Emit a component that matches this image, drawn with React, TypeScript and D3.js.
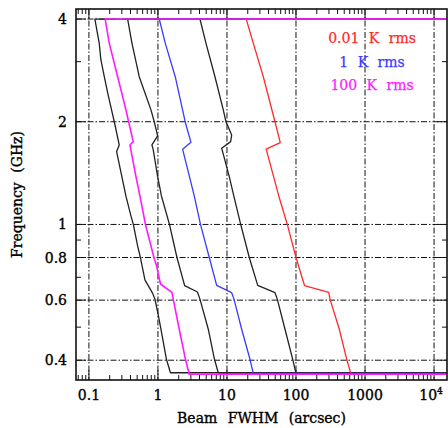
import React from 'react';
import * as d3 from 'd3';

// ---- axes ----
const xDomain: [number, number] = [0.065, 15400];
const yDomain: [number, number] = [0.35, 4.28];
const xGridValues = [0.1, 1, 10, 100, 1000, 10000];
const xTickLabels = ['0.1', '1', '10', '100', '1000', '10|4'];
const yGridValues = [4, 2, 1, 0.8, 0.6, 0.4];
const yTickLabels = ['4', '2', '1', '0.8', '0.6', '0.4'];
const yMinorTicks = [3, 0.9, 0.7, 0.5];

// ---- series (beam FWHM arcsec, frequency GHz) ----
const curveA_beam = [0.122, 0.141, 0.149, 0.167, 0.187, 0.233, 0.275, 0.252, 0.344, 0.406, 0.44, 0.508, 0.557, 0.648, 0.838, 0.905, 1.01, 1.105, 1.328, 1.517];
const curveA_freq = [4.0, 3.4, 3.04, 2.71, 2.43, 2.0, 1.71, 1.635, 1.21, 1.06, 1.0, 0.865, 0.8, 0.688, 0.628, 0.604, 0.543, 0.493, 0.4025, 0.3675];

const curveM_beam = [0.172, 0.197, 0.261, 0.344, 0.376, 0.4385, 0.393, 0.48, 0.548, 0.659, 0.875, 0.957, 1.087, 1.596, 1.666, 2.035, 2.504, 2.842];
const curveM_freq = [4.0, 3.4, 2.71, 2.167, 2.0, 1.749, 1.71, 1.381, 1.212, 1.0, 0.8, 0.756, 0.669, 0.632, 0.604, 0.493, 0.4025, 0.3637];

const curveB_beam = [0.364, 0.42, 0.536, 0.792, 0.884, 0.99, 0.818, 0.855, 0.99, 1.124, 1.468, 1.886, 2.438, 3.736, 4.06, 5.36, 6.59, 7.48];
const curveB_freq = [4.0, 3.4, 2.71, 2.167, 2.0, 1.818, 1.71, 1.654, 1.381, 1.212, 1.0, 0.8, 0.662, 0.634, 0.604, 0.493, 0.4025, 0.3675];

const curveBlue_beam = [1.044, 1.276, 1.781, 2.479, 3.008, 2.28, 3.358, 4.13, 5.54, 7.09, 11.7, 12.63, 16.33, 21.54, 24.05];
const curveBlue_freq = [4.0, 3.4, 2.71, 2.0, 1.74, 1.66, 1.212, 1.0, 0.8, 0.663, 0.631, 0.604, 0.493, 0.4025, 0.366];

const curveC_beam = [4.06, 4.96, 6.7, 8.84, 9.67, 11.7, 11.31, 8.38, 10.8, 12.55, 15.8, 21.05, 27.9, 49.6, 53.6, 69.3, 89.6, 100];
const curveC_freq = [4.0, 3.4, 2.71, 2.167, 2.0, 1.83, 1.749, 1.673, 1.381, 1.212, 1.0, 0.8, 0.663, 0.631, 0.604, 0.493, 0.4025, 0.366];

const curveR_beam = [18.98, 24.05, 33.6, 49.6, 59.2, 37.0, 56.3, 74.8, 100, 132.8, 297.8, 311, 424, 543, 627];
const curveR_freq = [4.0, 3.4, 2.71, 2.0, 1.738, 1.662, 1.212, 1.0, 0.8, 0.662, 0.632, 0.604, 0.493, 0.4025, 0.364];

const legendLabels = ['0.01 K rms', '1 K rms', '100 K rms'];
const legendColors = ['#ff2a2a', '#3a3aff', '#ff1aff'];

const series = [
  { beam: curveA_beam, freq: curveA_freq, color: '#222222' },
  { beam: curveB_beam, freq: curveB_freq, color: '#222222' },
  { beam: curveC_beam, freq: curveC_freq, color: '#222222' },
  { beam: curveR_beam, freq: curveR_freq, color: '#ff2a2a' },
  { beam: curveBlue_beam, freq: curveBlue_freq, color: '#3a3aff' },
  { beam: curveM_beam, freq: curveM_freq, color: '#ff1aff' },
];

const W = 448;
const H = 428;
const L = 76, R = 447, T = 9, B = 380;
const FONT = '"DejaVu Serif", serif';

export default function App() {
  const x = d3.scaleLog().domain(xDomain).range([L, R]);
  const y = d3.scaleLog().domain(yDomain).range([B, T]);
  const line = d3.line<[number, number]>().x(d => x(d[0])).y(d => y(d[1]));

  const xMinor: number[] = [];
  for (let e = -2; e <= 4; e++) {
    for (let m = 2; m <= 9; m++) {
      const v = m * Math.pow(10, e);
      if (v > xDomain[0] && v < xDomain[1]) xMinor.push(v);
    }
  }
  const grid = '6,2,1.5,2';

  return (
    <svg width={W} height={H} style={{ position: 'absolute', left: 0, top: 0, background: '#fff' }}>
      <defs>
        <clipPath id="plot"><rect x={L} y={T} width={R - L} height={B - T} /></clipPath>
      </defs>
      <rect x={0} y={0} width={W} height={H} fill="#fff" />
      {/* grid */}
      <g stroke="#111" strokeWidth={1} strokeDasharray={grid} fill="none">
        {xGridValues.map(v => <line key={'gx' + v} x1={x(v)} x2={x(v)} y1={T} y2={B} />)}
        {yGridValues.map(v => <line key={'gy' + v} x1={L} x2={R} y1={y(v)} y2={y(v)} />)}
      </g>
      {/* ticks */}
      <g stroke="#111" strokeWidth={1}>
        {xGridValues.map(v => (
          <g key={'tx' + v}>
            <line x1={x(v)} x2={x(v)} y1={B} y2={B - 10} />
            <line x1={x(v)} x2={x(v)} y1={T} y2={T + 10} />
          </g>
        ))}
        {xMinor.map(v => (
          <g key={'mx' + v}>
            <line x1={x(v)} x2={x(v)} y1={B} y2={B - 5} />
            <line x1={x(v)} x2={x(v)} y1={T} y2={T + 5} />
          </g>
        ))}
        {yGridValues.map(v => (
          <g key={'ty' + v}>
            <line x1={L} x2={L + 10} y1={y(v)} y2={y(v)} />
            <line x1={R} x2={R - 10} y1={y(v)} y2={y(v)} />
          </g>
        ))}
        {yMinorTicks.map(v => (
          <g key={'my' + v}>
            <line x1={L} x2={L + 5} y1={y(v)} y2={y(v)} />
            <line x1={R} x2={R - 5} y1={y(v)} y2={y(v)} />
          </g>
        ))}
      </g>
      {/* curves */}
      <g clipPath="url(#plot)" fill="none" strokeWidth={1.3} strokeLinejoin="round">
        {series.map((s, i) => {
          const pts: [number, number][] = s.beam.map((b, j) => [b, s.freq[j]] as [number, number]);
          const full: [number, number][] = [
            [xDomain[1] * 2, s.freq[0]],
            ...pts,
            [xDomain[1] * 2, s.freq[s.freq.length - 1]],
          ];
          return <path key={'c' + i} d={line(full) || ''} stroke={s.color} strokeWidth={i === 5 ? 1.6 : 1.3} />;
        })}
      </g>
      {/* frame */}
      <rect x={L} y={T} width={R - L} height={B - T} fill="none" stroke="#111" strokeWidth={1.6} />
      {/* tick labels */}
      <g fontFamily={FONT} fontSize={14} fill="#000" stroke="#000" strokeWidth={0.35}>
        {xGridValues.map((v, i) => {
          const lab = xTickLabels[i];
          if (lab.includes('|')) {
            const [base, sup] = lab.split('|');
            return (
              <text key={'lx' + v} x={x(v) - 3} y={400} textAnchor="middle">
                {base}<tspan fontSize={9} dy={-6}>{sup}</tspan>
              </text>
            );
          }
          return <text key={'lx' + v} x={x(v)} y={400} textAnchor="middle">{lab}</text>;
        })}
        {yGridValues.map((v, i) => (
          <text key={'ly' + v} x={67} y={y(v) + 5} textAnchor="end">{yTickLabels[i]}</text>
        ))}
        <text x={(L + R) / 2} y={423} textAnchor="middle" wordSpacing={6}>Beam FWHM (arcsec)</text>
        <text transform={`translate(22,${(T + B) / 2}) rotate(-90)`} textAnchor="middle" wordSpacing={5}>Frequency (GHz)</text>
      </g>
      {/* legend */}
      <g fontFamily={FONT} fontSize={14} textAnchor="middle" wordSpacing={5}>
        {legendLabels.map((t, i) => (
          <text key={t} x={372} y={43 + i * 23.5} fill={legendColors[i]} stroke={legendColors[i]} strokeWidth={0.25}>{t}</text>
        ))}
      </g>
    </svg>
  );
}
